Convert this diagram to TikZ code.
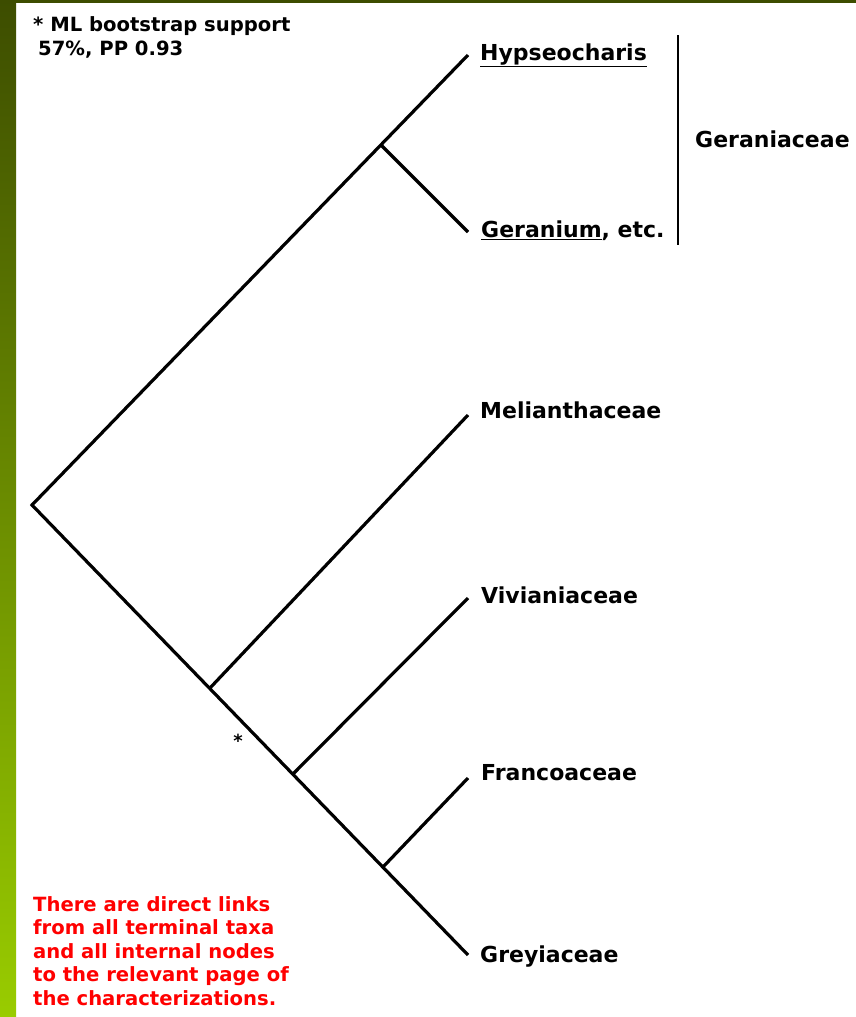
\documentclass[tikz,border=0pt]{standalone}
\usepackage{fontspec}
\setmainfont{DejaVu Sans}
\usetikzlibrary{positioning}
\definecolor{oliveTop}{RGB}{61,77,0}
\definecolor{oliveBot}{RGB}{153,204,0}
\tikzset{
  br/.style    ={draw=black,line width=3.2pt},
  taxon/.style ={anchor=base west,inner sep=0pt,
                 font=\bfseries\fontsize{22}{26}\selectfont},
  note/.style  ={anchor=base west,inner sep=0pt,align=left,
                 font=\bfseries\fontsize{19.6}{23.4}\selectfont},
}

\begin{document}
\begin{tikzpicture}[x=1pt,y=-1pt]
\useasboundingbox (0,0) rectangle (856,1017);
\fill[white] (0,0) rectangle (856,1017);

%% frame: green strip on the left, dark rule on top
\shade[top color=oliveTop,bottom color=oliveBot] (0,0) rectangle (16,1017);
\fill[oliveTop] (0,0) rectangle (856,2.5);

%% internal nodes
\coordinate (root) at (32,505);
\coordinate (ger)  at (381,145);
\coordinate (n1)   at (210,688);
\coordinate (n2)   at (293,774);
\coordinate (n3)   at (383,867);

%% tips
\coordinate (tHyp) at (468,55);
\coordinate (tGer) at (468,232);
\coordinate (tMel) at (468,415);
\coordinate (tViv) at (468,598);
\coordinate (tFra) at (468,778);
\coordinate (tGre) at (468,955);

\draw[br] (tHyp) -- (root) -- (tGre);
\draw[br] (ger) -- (tGer);
\draw[br] (n1) -- (tMel);
\draw[br] (n2) -- (tViv);
\draw[br] (n3) -- (tFra);

\node[taxon] (lHyp) at (480,60)  {\underline{Hypseocharis}};
\node[taxon] (lGer) at (481,237) {\underline{Geranium}, etc.};
\node[taxon] (lMel) at (480,418) {Melianthaceae};
\node[taxon] (lViv) at (481,603) {Vivianiaceae};
\node[taxon] (lFra) at (481,780) {Francoaceae};
\node[taxon] (lGre) at (480,962) {Greyiaceae};

%% family bar
\coordinate (barT) at (678,35);
\coordinate (barB) at (678,245);
\draw[draw=black,line width=2.6pt] (barT) -- (barB);
\node[taxon] (lFam) at (695,147) {Geraniaceae};

%% support
\node[font=\bfseries\fontsize{18}{18}\selectfont,inner sep=0pt] (star) at (238,741) {*};
\node[note] (supp) at (33,55)
      {* ML bootstrap support\\\hspace*{5pt}57\%, PP 0.93};

\node[note,text=red] (links) at (33,1005)
      {There are direct links\\from all terminal taxa\\and all internal nodes\\to the relevant page of\\the characterizations.};

\end{tikzpicture}
\end{document}
